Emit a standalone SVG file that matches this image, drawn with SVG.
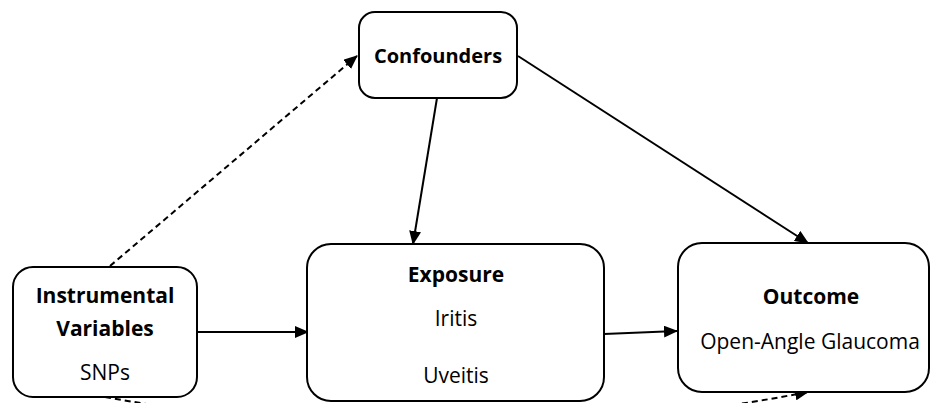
<svg xmlns="http://www.w3.org/2000/svg" width="931" height="403" viewBox="0 0 931 403">
<style>
.box{fill:#fff;stroke:#000;stroke-width:2}
.t{font-family:"Open Sans","Liberation Sans",sans-serif;fill:#000;text-anchor:middle}
.b{font-weight:bold;font-size:21px}
.r{font-size:21px}
.c{fill:none;stroke:#000;stroke-width:2}
.d{stroke-dasharray:6 4}
</style>
<defs>
<marker id="ah" markerUnits="userSpaceOnUse" markerWidth="14" markerHeight="12" refX="13" refY="6" orient="auto">
<path d="M0,0 L14,6 L0,12 Z" fill="#000"/>
</marker>
</defs>
<rect width="931" height="403" fill="#fff"/>
<g id="connectors">
<path class="c d" d="M110,266 L357,56" marker-end="url(#ah)"/>
<path class="c" d="M518,56 L808,243" marker-end="url(#ah)"/>
<path class="c" d="M437,98 L413,244" marker-end="url(#ah)"/>
<path class="c" d="M197,332 L308,332" marker-end="url(#ah)"/>
<path class="c" d="M604,334 L677,331" marker-end="url(#ah)"/>
<path class="c d" d="M105,397 Q456,460 808,392" marker-end="url(#ah)"/>
</g>
<g id="confounders">
<rect class="box" x="359" y="12" width="158" height="86" rx="16"/>
<text class="t b" x="438" y="63" style="font-size:20px">Confounders</text>
</g>
<g id="instrumental">
<rect class="box" x="13" y="267" width="184" height="130" rx="20"/>
<text class="t b" x="105" y="303">Instrumental</text>
<text class="t b" x="105" y="336">Variables</text>
<text class="t r" x="105" y="380">SNPs</text>
</g>
<g id="exposure">
<rect class="box" x="307" y="244" width="297" height="157" rx="24"/>
<text class="t b" x="456" y="282">Exposure</text>
<text class="t r" x="456" y="326">Iritis</text>
<text class="t r" x="456" y="383">Uveitis</text>
</g>
<g id="outcome">
<rect class="box" x="678" y="243" width="251" height="149" rx="24"/>
<text class="t b" x="811" y="304">Outcome</text>
<text class="t r" x="810" y="349">Open-Angle Glaucoma</text>
</g>
</svg>
